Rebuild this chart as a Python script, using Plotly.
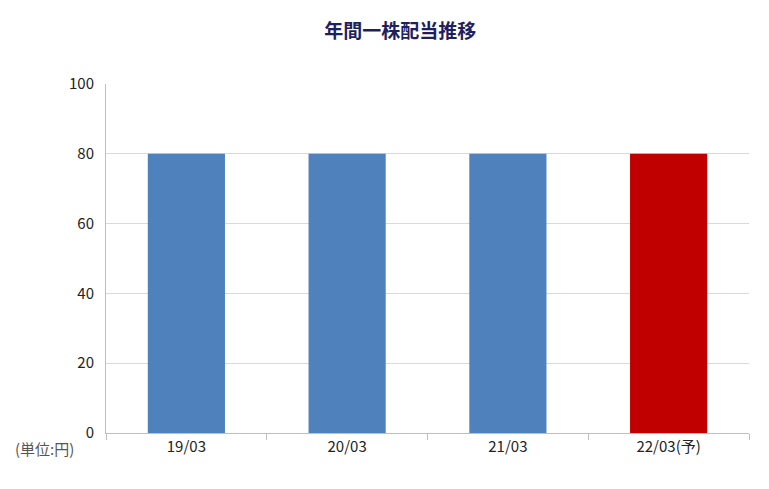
import plotly.graph_objects as go

# Data
years = ['19/03', '20/03', '21/03', '22/03(予)']
dividends = [80, 80, 80, 80]
bar_colors = ['#4F81BD', '#4F81BD', '#4F81BD', '#C00000']

fig = go.Figure()

fig.add_trace(
    go.Bar(x=years,
           y=dividends,
           marker=dict(color=bar_colors, line=dict(width=0)),
           width=0.48)
)

fig.update_layout(
    title=dict(text='<b>年間一株配当推移</b>', x=0.51, y=0.965,
               font=dict(size=19, color='#1F1F5F', family='Noto Sans CJK JP')),
    width=769, height=489,
    margin=dict(l=98, r=28, t=76, b=64),
    plot_bgcolor='white', paper_bgcolor='white',
    font=dict(family='Noto Sans CJK JP', size=15, color='#222222'),
    showlegend=False,
)

fig.update_xaxes(tickson='boundaries', ticks='outside', ticklen=6,
                 tickcolor='#BFBFBF', showline=True, linecolor='#BFBFBF',
                 showgrid=False)
fig.update_yaxes(range=[0, 100], dtick=20, showgrid=True, gridcolor='#D9D9D9',
                 showline=True, linecolor='#BFBFBF', ticks='outside',
                 tickcolor='rgba(0,0,0,0)', ticklen=8, zeroline=False)

fig.add_annotation(text='(単位:円)', xref='paper', yref='paper', x=-0.095, y=-0.045,
                   xanchor='center', yanchor='middle', showarrow=False,
                   font=dict(size=15, color='#555555'))

fig.write_html("out.html")
